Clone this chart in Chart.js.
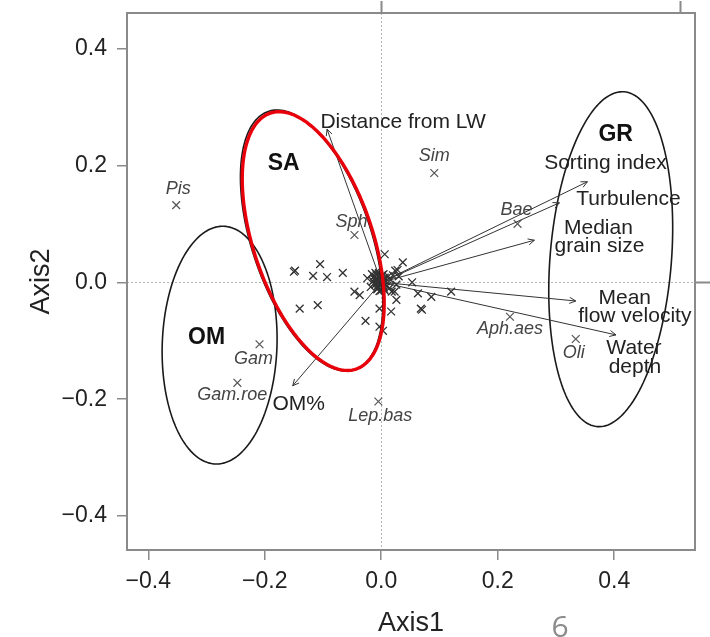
<!DOCTYPE html>
<html>
<head>
<meta charset="utf-8">
<script src="https://cdn.jsdelivr.net/npm/chart.js"></script>
<style>
  body { margin: 0; background: #fff; }
</style>
</head>
<body>
<canvas id="ordination" width="710" height="637"></canvas>
<script>
// environmental variables fitted onto the ordination (arrow tips)
const vectorLines = [['Distance from LW'], ['Sorting index'], ['Turbulence'], ['Median', 'grain size'],
                     ['Mean', 'flow velocity'], ['Water', 'depth'], ['OM%']];
const vectorAxis1 = [-0.093, 0.354, 0.306, 0.263, 0.334, 0.403, -0.152];
const vectorAxis2 = [0.262, 0.172, 0.136, 0.072, -0.032, -0.090, -0.177];

// taxa with a name printed next to them
const taxa = ['Pis', 'Sim', 'Bae', 'Sph', 'Gam', 'Gam.roe', 'Lep.bas', 'Aph.aes', 'Oli'];
const taxaAxis1 = [-0.352, 0.091, 0.234, -0.046, -0.209, -0.247, -0.005, 0.221, 0.334];
const taxaAxis2 = [0.132, 0.187, 0.100, 0.081, -0.106, -0.172, -0.204, -0.059, -0.097];

// the rest of the taxa, unlabelled (most of them crowd the origin)
const otherAxis1 = [-0.148, -0.150, -0.105, -0.117, -0.093, -0.066, -0.046, -0.037, -0.140, -0.109,
                    -0.027, -0.003, -0.003, -0.024, 0.006, 0.037, 0.028, 0.053, 0.023, 0.063,
                    0.086, 0.120, 0.026, 0.017, 0.068, 0.070, 0.003,
                    -0.012, -0.008, -0.004, 0.000, 0.004, -0.010, -0.006, 0.002, 0.006, -0.014,
                    -0.002, 0.008, -0.016, 0.000, -0.018, 0.010, -0.004, 0.004, -0.010, 0.006,
                    0.012, 0.016, 0.020, 0.014, 0.024, 0.030, 0.026, 0.018,
                    -0.007, -0.003, 0.001, -0.009, -0.005, -0.001, 0.003, -0.011, -0.007, -0.003,
                    0.001, 0.005, -0.008, -0.004, 0.000, -0.012, -0.006, 0.002];
const otherAxis2 = [0.020, 0.018, 0.031, 0.011, 0.009, 0.016, -0.016, -0.022, -0.045, -0.039,
                    -0.066, -0.045, -0.076, 0.007, 0.048, 0.034, 0.021, 0.000, -0.016, -0.019,
                    -0.025, -0.016, -0.030, -0.050, -0.045, -0.047, -0.083,
                    0.010, 0.004, 0.012, 0.006, -0.002, -0.004, -0.010, -0.008, 0.008, 0.002,
                    0.000, 0.002, 0.014, -0.014, -0.008, -0.006, 0.016, 0.014, 0.016, -0.014,
                    0.010, 0.004, 0.012, -0.010, 0.020, 0.010, -0.004, -0.016,
                    0.007, 0.009, 0.003, 0.001, -0.001, -0.005, -0.007, 0.005, -0.012, -0.015,
                    0.012, -0.011, 0.013, 0.002, 0.010, -0.002, -0.006, 0.000];

// habitat groups: ellipse centre, semi-axes and tilt of the long axis (degrees)
const groups = ['SA', 'GR', 'OM'];
const groupCx = [-0.1195, 0.394, -0.2775];
const groupCy = [0.0715, 0.0395, -0.1075];
const groupA = [0.233, 0.2873, 0.2035];
const groupB = [0.1024, 0.1042, 0.0985];
const groupAngle = [108.6, 85.4, 88];

// highlighted ring drawn over SA
const ringCx = -0.1168, ringCy = 0.0705, ringA = 0.231, ringB = 0.1024, ringAngle = 108.6;

// axis ticks
const tickValues = [-0.4, -0.2, 0, 0.2, 0.4];

// label placement, pixels from the mark
const vectorLineOffset = [[[76, -7]], [[18, -19]], [[69, -3.5]], [[64, -12], [65, 5.5]],
                          [[49, -3], [59, 15]], [[18, 13], [19, 32]], [[6, 18]]];
const taxaOffset = [[2, -16], [0, -17], [-1, -14], [-3, -13], [-6, 15], [-5, 12], [2, 14], [0, 12], [-2, 14]];
const groupOffset = [[-28, -77], [5, -125], [-13, -7]];

const FAMILY = '"Liberation Sans", Arial, Helvetica, sans-serif';
const INK = '#222';

function fmt(v) {
  if (Math.abs(v) < 1e-9) return '0.0';
  return (v < 0 ? '\u2212' : '') + Math.abs(v).toFixed(1);
}

function traceEllipse(ctx, xs, ys, cx, cy, a, b, deg) {
  const phi = deg * Math.PI / 180;
  ctx.beginPath();
  for (let i = 0; i <= 180; i++) {
    const t = i / 180 * 2 * Math.PI;
    const ex = cx + a * Math.cos(t) * Math.cos(phi) - b * Math.sin(t) * Math.sin(phi);
    const ey = cy + a * Math.cos(t) * Math.sin(phi) + b * Math.sin(t) * Math.cos(phi);
    const px = xs.getPixelForValue(ex), py = ys.getPixelForValue(ey);
    if (i) ctx.lineTo(px, py); else ctx.moveTo(px, py);
  }
  ctx.closePath();
}

function text(ctx, s, x, y, font, color) {
  ctx.font = font;
  ctx.fillStyle = color;
  ctx.textAlign = 'center';
  ctx.textBaseline = 'middle';
  ctx.fillText(s, x, y);
}

const biplot = {
  id: 'biplot',
  beforeDatasetsDraw(chart) {
    const {ctx, chartArea: area, scales: {x, y}} = chart;
    ctx.save();
    // zero lines
    ctx.strokeStyle = '#b4b4b4';
    ctx.lineWidth = 1;
    ctx.setLineDash([2, 2]);
    const x0 = Math.round(x.getPixelForValue(0)) + 0.5;
    const y0 = Math.round(y.getPixelForValue(0)) + 0.5;
    ctx.beginPath();
    ctx.moveTo(x0, area.top); ctx.lineTo(x0, area.bottom);
    ctx.moveTo(area.left, y0); ctx.lineTo(area.right, y0);
    ctx.stroke();
    ctx.restore();
  },
  afterDatasetsDraw(chart) {
    const {ctx, chartArea: area, scales: {x, y}} = chart;
    ctx.save();

    // group ellipses
    ctx.strokeStyle = '#1a1a1a';
    ctx.lineWidth = 1.6;
    groups.forEach((g, i) => {
      traceEllipse(ctx, x, y, groupCx[i], groupCy[i], groupA[i], groupB[i], groupAngle[i]);
      ctx.stroke();
    });

    // variable arrows from the origin
    const ox = x.getPixelForValue(0), oy = y.getPixelForValue(0);
    ctx.strokeStyle = '#333';
    ctx.lineWidth = 1;
    vectorAxis1.forEach((v, i) => {
      const tx = x.getPixelForValue(v), ty = y.getPixelForValue(vectorAxis2[i]);
      const ang = Math.atan2(ty - oy, tx - ox);
      ctx.beginPath();
      ctx.moveTo(ox, oy);
      ctx.lineTo(tx, ty);
      ctx.moveTo(tx - 7 * Math.cos(ang - 0.45), ty - 7 * Math.sin(ang - 0.45));
      ctx.lineTo(tx, ty);
      ctx.lineTo(tx - 7 * Math.cos(ang + 0.45), ty - 7 * Math.sin(ang + 0.45));
      ctx.stroke();
      vectorLines[i].forEach((line, k) => {
        const [dx, dy] = vectorLineOffset[i][k];
        text(ctx, line, tx + dx, ty + dy, '21px ' + FAMILY, INK);
      });
    });

    // taxon names
    taxa.forEach((t, i) => {
      const px = x.getPixelForValue(taxaAxis1[i]), py = y.getPixelForValue(taxaAxis2[i]);
      text(ctx, t, px + taxaOffset[i][0], py + taxaOffset[i][1], 'italic 18px ' + FAMILY, '#444');
    });

    // group names
    groups.forEach((g, i) => {
      const px = x.getPixelForValue(groupCx[i]), py = y.getPixelForValue(groupCy[i]);
      text(ctx, g, px + groupOffset[i][0], py + groupOffset[i][1], 'bold 23px ' + FAMILY, '#111');
    });

    // highlight ring
    ctx.strokeStyle = '#e8000b';
    ctx.lineWidth = 3.4;
    traceEllipse(ctx, x, y, ringCx, ringCy, ringA, ringB, ringAngle);
    ctx.stroke();

    // plot frame and the ticks of the opposite axes
    ctx.strokeStyle = '#8a8a8a';
    ctx.lineWidth = 2;
    ctx.strokeRect(area.left, area.top, area.right - area.left, area.bottom - area.top);
    ctx.beginPath();
    [0, 0.513].forEach(v => {
      const px = Math.round(x.getPixelForValue(v)) + 0.5;
      ctx.moveTo(px, area.top); ctx.lineTo(px, area.top - 12);
    });
    const py0 = Math.round(y.getPixelForValue(0)) + 0.5;
    ctx.moveTo(area.right, py0); ctx.lineTo(area.right + 15, py0);
    ctx.stroke();

    // slide number
    ctx.font = '30px "Open Sans", sans-serif';
    ctx.fillStyle = '#8c8c8c';
    ctx.textAlign = 'center';
    ctx.textBaseline = 'alphabetic';
    ctx.fillText('6', 560, 637);
    ctx.restore();
  }
};

const tickFont = {family: FAMILY, size: 23};
const gridStyle = {drawOnChartArea: false, drawTicks: true, tickLength: 10, color: '#8a8a8a', lineWidth: 1.5};

new Chart(document.getElementById('ordination'), {
  type: 'scatter',
  data: {
    datasets: [
      {
        label: 'taxa',
        data: taxaAxis1.map((v, i) => ({x: v, y: taxaAxis2[i]})),
        pointStyle: 'crossRot', pointRadius: 5.5, borderColor: '#555', borderWidth: 1.2,
        backgroundColor: 'transparent'
      },
      {
        label: 'other taxa',
        data: otherAxis1.map((v, i) => ({x: v, y: otherAxis2[i]})),
        pointStyle: 'crossRot', pointRadius: 5.5, borderColor: '#333', borderWidth: 1.3,
        backgroundColor: 'transparent'
      }
    ]
  },
  options: {
    responsive: false,
    animation: false,
    devicePixelRatio: 1,
    layout: {padding: {top: 13, right: 15, left: 0, bottom: 0}},
    plugins: {legend: {display: false}, tooltip: {enabled: false}},
    scales: {
      x: {
        type: 'linear', min: -0.4365, max: 0.5387, bounds: 'data',
        afterFit: s => { s.height = 87; s.paddingLeft = 0; s.paddingRight = 0; },
        afterBuildTicks: s => { s.ticks = tickValues.map(v => ({value: v})); },
        ticks: {padding: 8, color: INK, font: tickFont, callback: fmt, maxRotation: 0, autoSkip: false},
        grid: gridStyle,
        border: {display: false},
        title: {display: true, text: 'Axis1', color: INK, padding: 0,
                font: {family: FAMILY, size: 27, lineHeight: 1}}
      },
      y: {
        type: 'linear', min: -0.458, max: 0.4607, bounds: 'data',
        afterFit: s => { s.width = 127; s.paddingTop = 0; s.paddingBottom = 0; },
        afterBuildTicks: s => { s.ticks = tickValues.map(v => ({value: v})); },
        ticks: {padding: 10, color: INK, font: tickFont, callback: fmt, autoSkip: false},
        grid: gridStyle,
        border: {display: false},
        title: {display: true, text: 'Axis2', color: INK, padding: {top: 28, bottom: 0},
                font: {family: FAMILY, size: 27, lineHeight: 1}}
      }
    }
  },
  plugins: [biplot]
});
</script>
</body>
</html>
